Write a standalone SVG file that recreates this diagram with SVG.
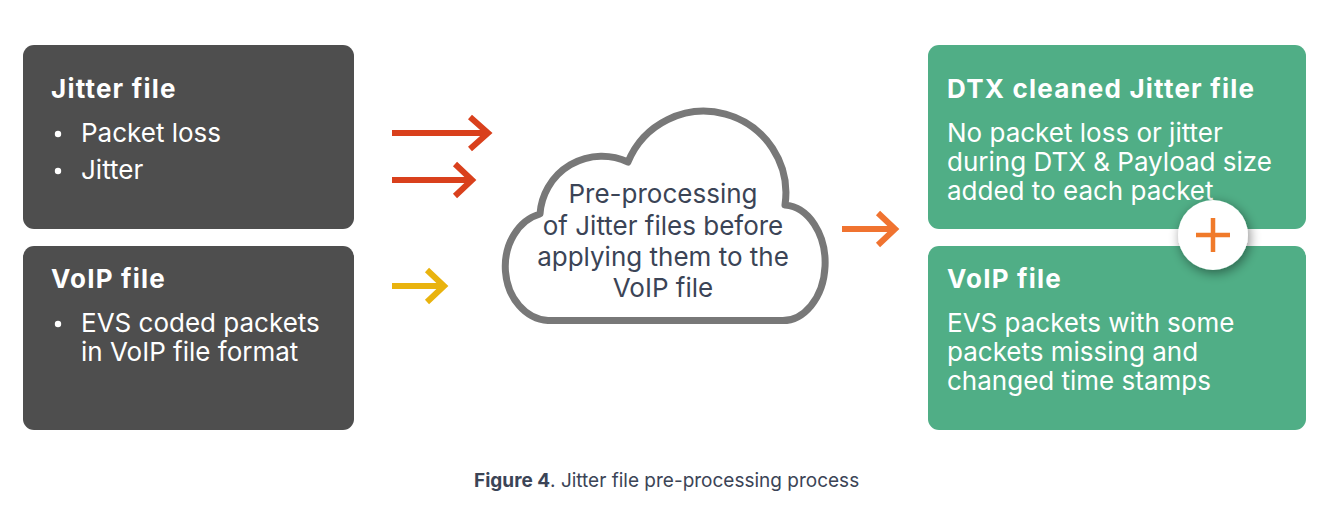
<svg xmlns="http://www.w3.org/2000/svg" width="1326" height="505" viewBox="0 0 1326 505">
  <style>
    .dark { fill: #4e4e4e; }
    .green { fill: #50ae86; }
    .t { font-family: Inter, "Liberation Sans", Arial, sans-serif; fill: #ffffff; font-size: 26px; }
    .b { font-weight: bold; font-size: 26px; letter-spacing: 1.2px; }
    .ct { font-family: Inter, "Liberation Sans", Arial, sans-serif; fill: #3b4456; font-size: 26px; text-anchor: middle; }
    .arrow { fill: none; stroke-width: 6; stroke-linecap: butt; stroke-linejoin: miter; }
    .cap { font-family: Inter, "Liberation Sans", Arial, sans-serif; fill: #3b4456; font-size: 19px; }
  </style>
  <defs>
    <filter id="sh" x="-50%" y="-50%" width="200%" height="200%">
      <feGaussianBlur in="SourceAlpha" stdDeviation="6"/>
      <feOffset dx="2" dy="3" result="b"/>
      <feComponentTransfer><feFuncA type="linear" slope="0.45"/></feComponentTransfer>
      <feMerge><feMergeNode/><feMergeNode in="SourceGraphic"/></feMerge>
    </filter>
  </defs>
  <rect width="1326" height="505" fill="#ffffff"/>

  <g id="jitter-file">
    <rect class="dark" x="23" y="45" width="331" height="184" rx="11"/>
    <text class="t b" x="51" y="98">Jitter file</text>
    <circle cx="58" cy="134" r="3.2" fill="#fff"/>
    <text class="t" x="81" y="142">Packet loss</text>
    <circle cx="58" cy="171" r="3.2" fill="#fff"/>
    <text class="t" x="81" y="179">Jitter</text>
  </g>

  <g id="voip-file-left">
    <rect class="dark" x="23" y="246" width="331" height="184" rx="11"/>
    <text class="t b" x="51" y="288">VoIP file</text>
    <circle cx="58" cy="324" r="3.2" fill="#fff"/>
    <text class="t" x="81" y="332">EVS coded packets</text>
    <text class="t" x="81" y="361">in VoIP file format</text>
  </g>

  <g id="cloud">
    <path d="M 548 320.5 A 45 54 0 0 1 540 214 A 62 62 0 0 1 628 162 A 82 82 0 0 1 785 205 A 42 57 0 0 1 780 320.5 Z" fill="#ffffff" stroke="#787878" stroke-width="7" stroke-linejoin="round"/>
    <text class="ct" x="663" y="203">Pre-processing</text>
    <text class="ct" x="663" y="235">of Jitter files before</text>
    <text class="ct" x="663" y="266">applying them to the</text>
    <text class="ct" x="663" y="297">VoIP file</text>
  </g>

  <g id="dtx-cleaned">
    <rect class="green" x="928" y="45" width="378" height="184" rx="11"/>
    <text class="t b" x="947" y="98">DTX cleaned Jitter file</text>
    <text class="t" x="947" y="142">No packet loss or jitter</text>
    <text class="t" x="947" y="171">during DTX &amp; Payload size</text>
    <text class="t" x="947" y="200">added to each packet</text>
  </g>

  <g id="voip-file-right">
    <rect class="green" x="928" y="246" width="378" height="184" rx="11"/>
    <text class="t b" x="947" y="288">VoIP file</text>
    <text class="t" x="947" y="332">EVS packets with some</text>
    <text class="t" x="947" y="361">packets missing and</text>
    <text class="t" x="947" y="390">changed time stamps</text>
  </g>

  <g id="plus">
    <circle cx="1213" cy="235" r="35" fill="#ffffff" filter="url(#sh)"/>
    <path d="M 1213 218 V 252 M 1196 235 H 1230" stroke="#f07a2a" stroke-width="4.5" fill="none"/>
  </g>

  <g id="connectors">
    <g class="arrow" stroke="#d9401c">
      <path d="M 392 133 H 488"/>
      <path d="M 470 117 L 488 133 L 470 149"/>
      <path d="M 392 180 H 472"/>
      <path d="M 455 164 L 472 180 L 455 196"/>
    </g>
    <g class="arrow" stroke="#e9b30e">
      <path d="M 392 286 H 444"/>
      <path d="M 427 270 L 444 286 L 427 302"/>
    </g>
    <g class="arrow" stroke="#f07330">
      <path d="M 842 229 H 895"/>
      <path d="M 878 213 L 895 229 L 878 245"/>
    </g>
  </g>

  <text class="cap" x="474" y="487"><tspan font-weight="bold">Figure 4</tspan>. Jitter file pre-processing process</text>
</svg>
